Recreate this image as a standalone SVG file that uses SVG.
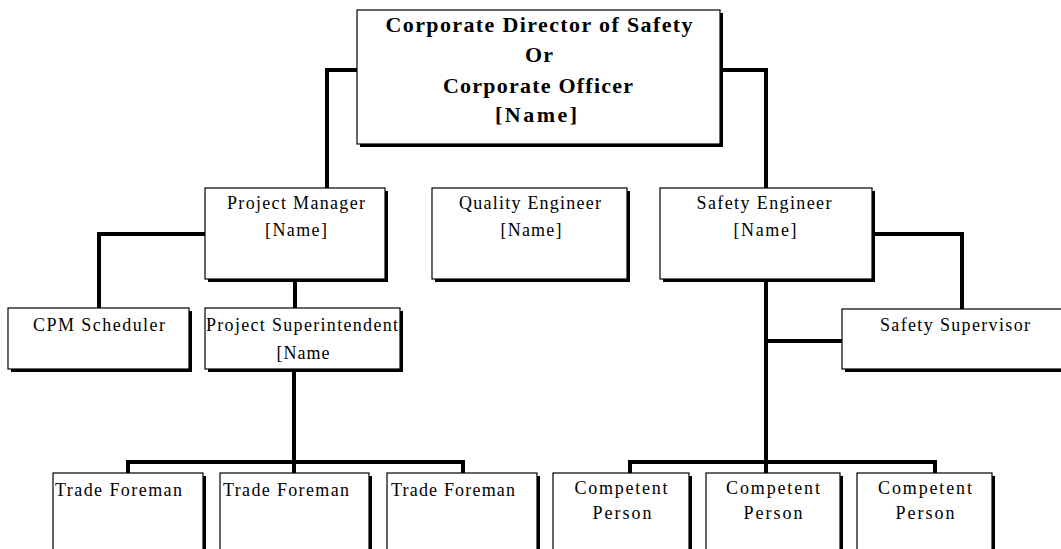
<svg xmlns="http://www.w3.org/2000/svg" width="1061" height="549" viewBox="0 0 1061 549">
<style>
.sh{fill:#000}
.bx{fill:#fff;stroke:#000;stroke-width:1.2}
.t{font-family:"Liberation Serif",serif;font-size:18px;fill:#000;text-anchor:middle}
.tl{font-family:"Liberation Serif",serif;font-size:18px;fill:#000}
.tb{font-family:"Liberation Serif",serif;font-size:22px;font-weight:bold;fill:#000;text-anchor:middle}
.c{fill:none;stroke:#000;stroke-width:4;stroke-linejoin:miter;stroke-linecap:butt}
</style>
<rect width="1061" height="549" fill="#fff"/>
<g id="connectors">
<path class="c" d="M357,70 H327 V188"/>
<path class="c" d="M723,70 H766 V188"/>
<path class="c" d="M205,234 H99 V308"/>
<path class="c" d="M295,282 V308"/>
<path class="c" d="M294,372 V473"/>
<path class="c" d="M128,473 V462 H463 V473"/>
<path class="c" d="M875,234 H962 V309"/>
<path class="c" d="M766,282 V473"/>
<path class="c" d="M766,341 H842"/>
<path class="c" d="M630,473 V462 H935 V473"/>
</g>
<g id="corporate-director">
<rect class="sh" x="360" y="13" width="363" height="134"/>
<rect class="bx" x="357" y="10" width="363" height="134"/>
<text class="tb" x="539" y="32" textLength="307" lengthAdjust="spacing">Corporate Director of Safety</text>
<text class="tb" x="539" y="62" textLength="28" lengthAdjust="spacing">Or</text>
<text class="tb" x="538" y="93" textLength="190" lengthAdjust="spacing">Corporate Officer</text>
<text class="tb" x="536" y="122" textLength="82" lengthAdjust="spacing">[Name]</text>
</g>
<g id="project-manager">
<rect class="sh" x="208" y="191" width="180" height="91"/>
<rect class="bx" x="205" y="188" width="180" height="91"/>
<text class="t" x="296" y="209" textLength="138" lengthAdjust="spacing">Project Manager</text>
<text class="t" x="296" y="236" textLength="62" lengthAdjust="spacing">[Name]</text>
</g>
<g id="quality-engineer">
<rect class="sh" x="435" y="191" width="195" height="91"/>
<rect class="bx" x="432" y="188" width="195" height="91"/>
<text class="t" x="530" y="209" textLength="142" lengthAdjust="spacing">Quality Engineer</text>
<text class="t" x="531" y="236" textLength="61" lengthAdjust="spacing">[Name]</text>
</g>
<g id="safety-engineer">
<rect class="sh" x="663" y="191" width="212" height="91"/>
<rect class="bx" x="660" y="188" width="212" height="91"/>
<text class="t" x="764" y="209" textLength="135" lengthAdjust="spacing">Safety Engineer</text>
<text class="t" x="765" y="236" textLength="63" lengthAdjust="spacing">[Name]</text>
</g>
<g id="cpm-scheduler">
<rect class="sh" x="11" y="311" width="181" height="61"/>
<rect class="bx" x="8" y="308" width="181" height="61"/>
<text class="t" x="99" y="331" textLength="132" lengthAdjust="spacing">CPM Scheduler</text>
</g>
<g id="project-superintendent">
<rect class="sh" x="208" y="311" width="195" height="61"/>
<rect class="bx" x="205" y="308" width="195" height="61"/>
<text class="t" x="302" y="331" textLength="192" lengthAdjust="spacing">Project Superintendent</text>
<text class="t" x="303" y="359" textLength="53" lengthAdjust="spacing">[Name</text>
</g>
<g id="safety-supervisor">
<rect class="sh" x="845" y="312" width="230" height="60"/>
<rect class="bx" x="842" y="309" width="230" height="60"/>
<text class="t" x="955" y="331" textLength="150" lengthAdjust="spacing">Safety Supervisor</text>
</g>
<g id="trade-foreman-1">
<rect class="sh" x="56" y="476" width="150" height="80"/>
<rect class="bx" x="53" y="473" width="150" height="80"/>
<text class="tl" x="55" y="496" textLength="127" lengthAdjust="spacing">Trade Foreman</text>
</g>
<g id="trade-foreman-2">
<rect class="sh" x="223" y="476" width="149" height="80"/>
<rect class="bx" x="220" y="473" width="149" height="80"/>
<text class="tl" x="223" y="496" textLength="126" lengthAdjust="spacing">Trade Foreman</text>
</g>
<g id="trade-foreman-3">
<rect class="sh" x="390" y="476" width="150" height="80"/>
<rect class="bx" x="387" y="473" width="150" height="80"/>
<text class="tl" x="391" y="496" textLength="124" lengthAdjust="spacing">Trade Foreman</text>
</g>
<g id="competent-person-1">
<rect class="sh" x="556" y="476" width="136" height="80"/>
<rect class="bx" x="553" y="473" width="136" height="80"/>
<text class="t" x="621" y="494" textLength="93" lengthAdjust="spacing">Competent</text>
<text class="t" x="622" y="519" textLength="59" lengthAdjust="spacing">Person</text>
</g>
<g id="competent-person-2">
<rect class="sh" x="709" y="476" width="134" height="80"/>
<rect class="bx" x="706" y="473" width="134" height="80"/>
<text class="t" x="773" y="494" textLength="94" lengthAdjust="spacing">Competent</text>
<text class="t" x="773" y="519" textLength="59" lengthAdjust="spacing">Person</text>
</g>
<g id="competent-person-3">
<rect class="sh" x="860" y="476" width="135" height="80"/>
<rect class="bx" x="857" y="473" width="135" height="80"/>
<text class="t" x="925" y="494" textLength="94" lengthAdjust="spacing">Competent</text>
<text class="t" x="925" y="519" textLength="59" lengthAdjust="spacing">Person</text>
</g>
</svg>
